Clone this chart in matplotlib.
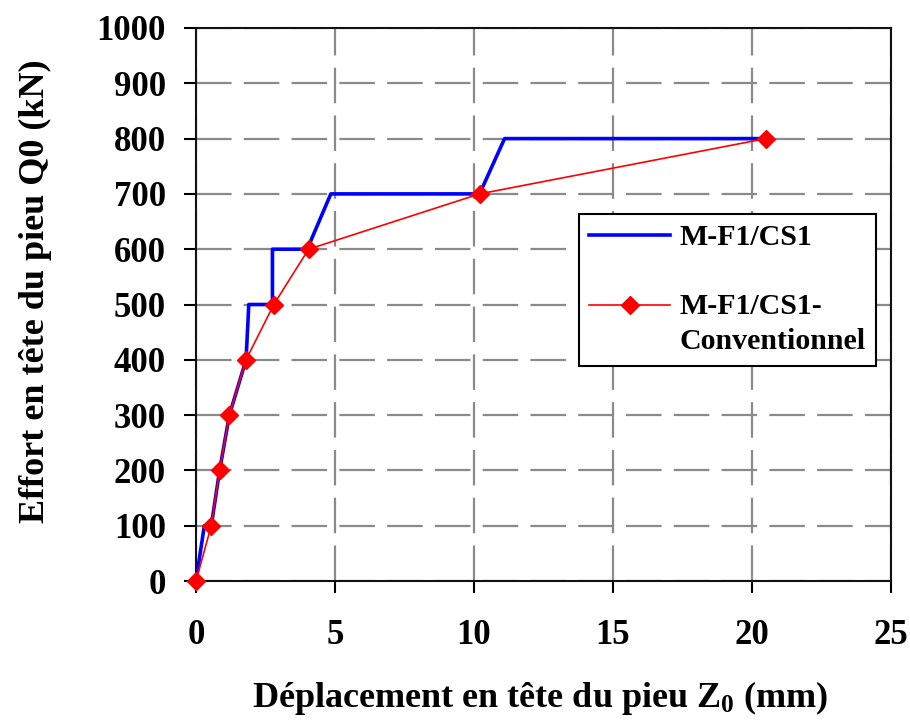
import matplotlib
matplotlib.use("Agg")
import numpy as np
import matplotlib.pyplot as plt
from matplotlib.legend_handler import HandlerLine2D

# Data
blue_x = [0, 0.3, 0.55, 0.85, 1.2, 1.8, 1.9, 2.75, 2.75, 4.0, 4.85, 10.2, 11.1, 20.5]
blue_y = [0, 100, 100, 200, 300, 400, 500, 500, 600, 600, 700, 700, 800, 800]
red_x = [0, 0.55, 0.85, 1.2, 1.8, 2.8, 4.05, 10.2, 20.5]
red_y = [0, 100, 200, 300, 400, 500, 600, 700, 800]
xticks = [0, 5, 10, 15, 20, 25]
yticks = [0, 100, 200, 300, 400, 500, 600, 700, 800, 900, 1000]
labels = ['M-F1/CS1', 'M-F1/CS1-\nConventionnel']

plt.rcParams['font.family'] = ['Liberation Serif', 'DejaVu Serif']
plt.rcParams['font.weight'] = 'bold'
plt.rcParams['mathtext.fontset'] = 'custom'
plt.rcParams['mathtext.rm'] = 'Liberation Serif:bold'
plt.rcParams['mathtext.bf'] = 'Liberation Serif:bold'
plt.rcParams['mathtext.it'] = 'Liberation Serif:bold'


class ShiftedHandler(HandlerLine2D):
    def __init__(self, dy=0.0, **kw):
        super().__init__(**kw)
        self.dy = dy

    def create_artists(self, legend, orig_handle, xdescent, ydescent, width,
                       height, fontsize, trans):
        arts = super().create_artists(legend, orig_handle, xdescent, ydescent,
                                      width, height, fontsize, trans)
        for a in arts:
            a.set_ydata(np.asarray(a.get_ydata()) + self.dy)
        return arts


fig = plt.figure(figsize=(9.10, 7.24), dpi=100)
ax = fig.add_axes([196/910, 1-581/724, (891-196)/910, (581-28)/724])

ax.plot(blue_x, blue_y, color='#0000ff', lw=2.6, label=labels[0], zorder=3)
red_line, = ax.plot(red_x, red_y, color='#ff0000', lw=1.2, marker='D', ms=9,
                    label=labels[1], zorder=4, clip_on=False)

ax.set_xlim(0, 25)
ax.set_ylim(0, 1000)
ax.set_xticks(xticks)
ax.set_yticks(yticks)
ax.grid(True, color='#8a8a8a', lw=1.6, dashes=(16, 5.5))
ax.set_axisbelow(True)
for s in ax.spines.values():
    s.set_linewidth(1.5)
    s.set_color('#111111')
ax.tick_params(direction='out', length=8.6, width=1.5, labelsize=25)
ax.tick_params(axis='x', pad=19)
ax.tick_params(axis='y', pad=13)
for lab in ax.get_xticklabels() + ax.get_yticklabels():
    lab.set_fontweight('bold')

ax.set_xlabel(r'Déplacement en tête du pieu Z$_{0}$ (mm)', fontsize=26,
              fontweight='bold')
ax.xaxis.set_label_coords((540-196)/695, -(679-581)/553)
ax.set_ylabel('Effort en tête du pieu Q0 (kN)', fontsize=26, fontweight='bold')
ax.yaxis.set_label_coords((52-196)/695, (581-291)/553)

leg = ax.legend(loc='upper left',
                bbox_to_anchor=((579-196)/695, 1-(214-28)/553),
                borderaxespad=0, frameon=True, fancybox=False,
                edgecolor='black', framealpha=1,
                prop={'size': 21.5, 'weight': 'bold'}, handlelength=2.7,
                handletextpad=0.3, labelspacing=1.38, borderpad=0.35,
                handler_map={red_line: ShiftedHandler(dy=13.3)})
leg.get_frame().set_linewidth(1.5)
leg.get_texts()[1].set_linespacing(1.4)

fig.savefig('out.png', dpi=100)
